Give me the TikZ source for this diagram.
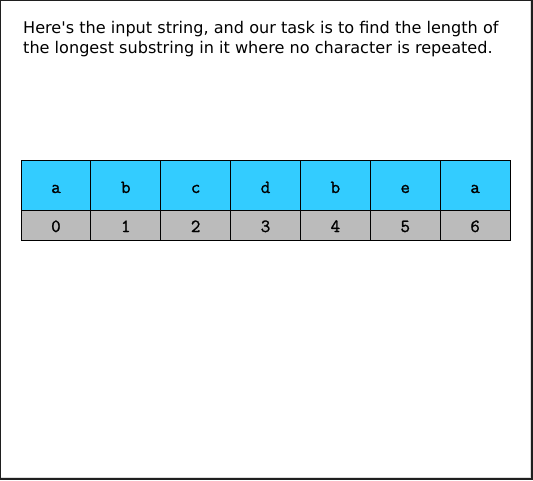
\documentclass[tikz,border=0pt]{standalone}
\usepackage{fontspec}
\setmainfont{DejaVu Sans}
\newfontfamily\cellfont[FakeBold=1.2]{Latin Modern Mono}
\definecolor{cellblue}{HTML}{33CCFF}
\definecolor{cellgray}{HTML}{BBBBBB}
\definecolor{shadegray}{HTML}{DDDDDD}
\begin{document}
\begin{tikzpicture}[x=1pt,y=-1pt,
  charbox/.style={draw=black,line width=0.9pt,fill=cellblue,minimum width=69.86pt,minimum height=50pt,inner sep=0pt},
  idxbox/.style={draw=black,line width=0.9pt,fill=cellgray,minimum width=69.86pt,minimum height=30pt,inner sep=0pt},
  celltext/.style={anchor=base,inner sep=0pt,font=\cellfont\fontsize{18.5}{20}\selectfont}]
\useasboundingbox (0,0) rectangle (533,480);
\fill[black!88] (0,0) rectangle (533,480);
\fill[shadegray] (1,1) rectangle (530.5,478);
\fill[white] (1,1) rectangle (529.5,477);
\node[anchor=base west,inner sep=0pt,align=left,font=\fontsize{16.1}{20}\selectfont] (title) at (23,53)
  {Here\textquotesingle s the input string, and our task is to find the length of\\the longest substring in it where no character is repeated.};
\foreach \c [count=\i from 0] in {a,b,c,d,b,e,a} {
  \node[charbox] (c\i) at ({21+69.86*\i+34.93},185) {};
  \node[idxbox] (n\i) at ({21+69.86*\i+34.93},225) {};
  \node[celltext] (ct\i) at ({21+69.86*\i+34.93},193) {\c};
  \node[celltext] (nt\i) at ({21+69.86*\i+34.93},232) {\i};
}
\end{tikzpicture}
\end{document}
